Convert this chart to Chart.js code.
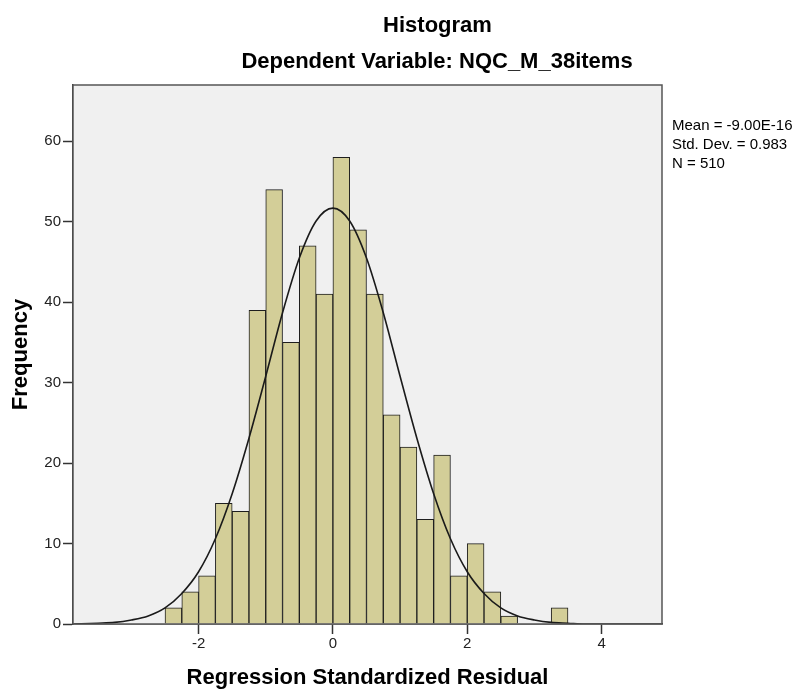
<!DOCTYPE html>
<html>
<head>
<meta charset="utf-8">
<script src="https://cdn.jsdelivr.net/npm/chart.js@4.4.1/dist/chart.umd.min.js"></script>
<style>
    html, body { margin: 0; padding: 0; background: #ffffff; }
    #wrap { width: 795px; height: 689px; }
</style>
</head>
<body>
<div id="wrap"><canvas id="histChart" width="795" height="689"></canvas></div>
<script>
// histogram bins (lower edge) and counts
const binStarts = [-2.5, -2.25, -2, -1.75, -1.5, -1.25, -1, -0.75, -0.5, -0.25, 0, 0.25, 0.5, 0.75, 1, 1.25, 1.5, 1.75, 2, 2.25, 2.5, 2.75, 3, 3.25];
const binCounts = [2, 4, 6, 15, 14, 39, 54, 35, 47, 41, 58, 49, 41, 26, 22, 13, 21, 6, 10, 4, 1, 0, 0, 2];
const binWidth = 0.25;

// normal curve, read at points along the axis
const curveX = [-3.87, -3.5, -3.25, -3, -2.75, -2.5, -2.25, -2, -1.75, -1.5, -1.25, -1, -0.75, -0.5, -0.25, 0, 0.25, 0.5, 0.75, 1, 1.25, 1.5, 1.75, 2, 2.25, 2.5, 2.75, 3, 3.25, 3.5, 3.75, 4, 4.5, 4.9];
const curveY = [0, 0.1, 0.2, 0.5, 1.0, 2.0, 3.8, 6.5, 10.6, 16.2, 23.1, 30.8, 38.7, 45.5, 50.1, 51.7, 50.1, 45.5, 38.7, 30.8, 23.1, 16.2, 10.6, 6.5, 3.8, 2.0, 1.0, 0.5, 0.2, 0.1, 0, 0, 0, 0];

const xTicks = [-2, 0, 2, 4];
const yTicks = [0, 10, 20, 30, 40, 50, 60];

const titleText = 'Histogram';
const subtitleText = 'Dependent Variable: NQC_M_38items';
const statsLines = ['Mean = -9.00E-16', 'Std. Dev. = 0.983', 'N = 510'];

const FONT = "'Liberation Sans', Arial, sans-serif";

const frameAndText = {
    id: 'frameAndText',
    beforeDatasetsDraw(chart) {
        const { ctx, chartArea: a } = chart;
        ctx.save();
        ctx.fillStyle = '#f0f0f0';
        ctx.fillRect(a.left, a.top, a.right - a.left, a.bottom - a.top);
        ctx.restore();
    },
    afterDraw(chart) {
        const { ctx, chartArea: a } = chart;
        ctx.save();
        ctx.strokeStyle = '#555555';
        ctx.lineWidth = 1.5;
        ctx.strokeRect(a.left, a.top, a.right - a.left, a.bottom - a.top);

        ctx.fillStyle = '#000000';
        ctx.textAlign = 'center';
        ctx.textBaseline = 'alphabetic';
        ctx.font = 'bold 22px ' + FONT;
        ctx.fillText(titleText, 437.5, 32);
        ctx.fillText(subtitleText, 437, 68);

        ctx.textAlign = 'left';
        ctx.font = '15px ' + FONT;
        statsLines.forEach((line, i) => {
            ctx.fillText(line, 672, 129.5 + i * 19);
        });
        ctx.restore();
    },
};

const ctx = document.getElementById('histChart').getContext('2d');
new Chart(ctx, {
    data: {
        datasets: [
            {
                type: 'line',
                data: curveX.map((x, i) => ({ x, y: curveY[i] })),
                borderColor: '#1a1a1a',
                borderWidth: 1.6,
                pointRadius: 0,
                fill: false,
                cubicInterpolationMode: 'monotone',
                order: 0,
            },
            {
                type: 'bar',
                data: binStarts.map((s, i) => ({ x: s + binWidth / 2, y: binCounts[i] })),
                backgroundColor: '#d3ce98',
                borderColor: '#1e1e1e',
                borderWidth: 1,
                categoryPercentage: 1.0,
                barPercentage: 1.0,
                grouped: false,
                order: 1,
            },
        ],
    },
    options: {
        responsive: false,
        animation: false,
        layout: { padding: { top: 85, right: 133, bottom: 0, left: 0 } },
        plugins: {
            legend: { display: false },
            tooltip: { enabled: false },
            title: { display: false },
        },
        scales: {
            x: {
                type: 'linear',
                min: -3.87,
                max: 4.9,
                offset: false,
                afterBuildTicks: (axis) => { axis.ticks = xTicks.map((v) => ({ value: v })); },
                afterFit: (axis) => { axis.height = 65; },
                grid: { offset: false, drawOnChartArea: false, drawTicks: true, tickLength: 10, tickWidth: 1.5, tickColor: '#333333' },
                border: { display: true, color: '#333333', width: 1.5 },
                ticks: { color: '#222222', padding: 1, font: { family: FONT, size: 15 }, maxRotation: 0 },
                title: {
                    display: true,
                    text: 'Regression Standardized Residual',
                    color: '#000000',
                    font: { family: FONT, size: 22, weight: 'bold', lineHeight: 1 },
                    padding: { top: 0, bottom: 0 },
                },
            },
            y: {
                type: 'linear',
                min: 0,
                max: 67,
                afterBuildTicks: (axis) => { axis.ticks = yTicks.map((v) => ({ value: v })); },
                afterFit: (axis) => { axis.width = 73; },
                grid: { drawOnChartArea: false, drawTicks: true, tickLength: 10, tickWidth: 1.5, tickColor: '#333333' },
                border: { display: true, color: '#333333', width: 1.5 },
                ticks: { color: '#222222', padding: 2, font: { family: FONT, size: 15 } },
                title: {
                    display: true,
                    text: 'Frequency',
                    color: '#000000',
                    font: { family: FONT, size: 22, weight: 'bold', lineHeight: 1 },
                    padding: { top: 10, bottom: 0 },
                },
            },
        },
    },
    plugins: [frameAndText],
});
</script>
</body>
</html>
